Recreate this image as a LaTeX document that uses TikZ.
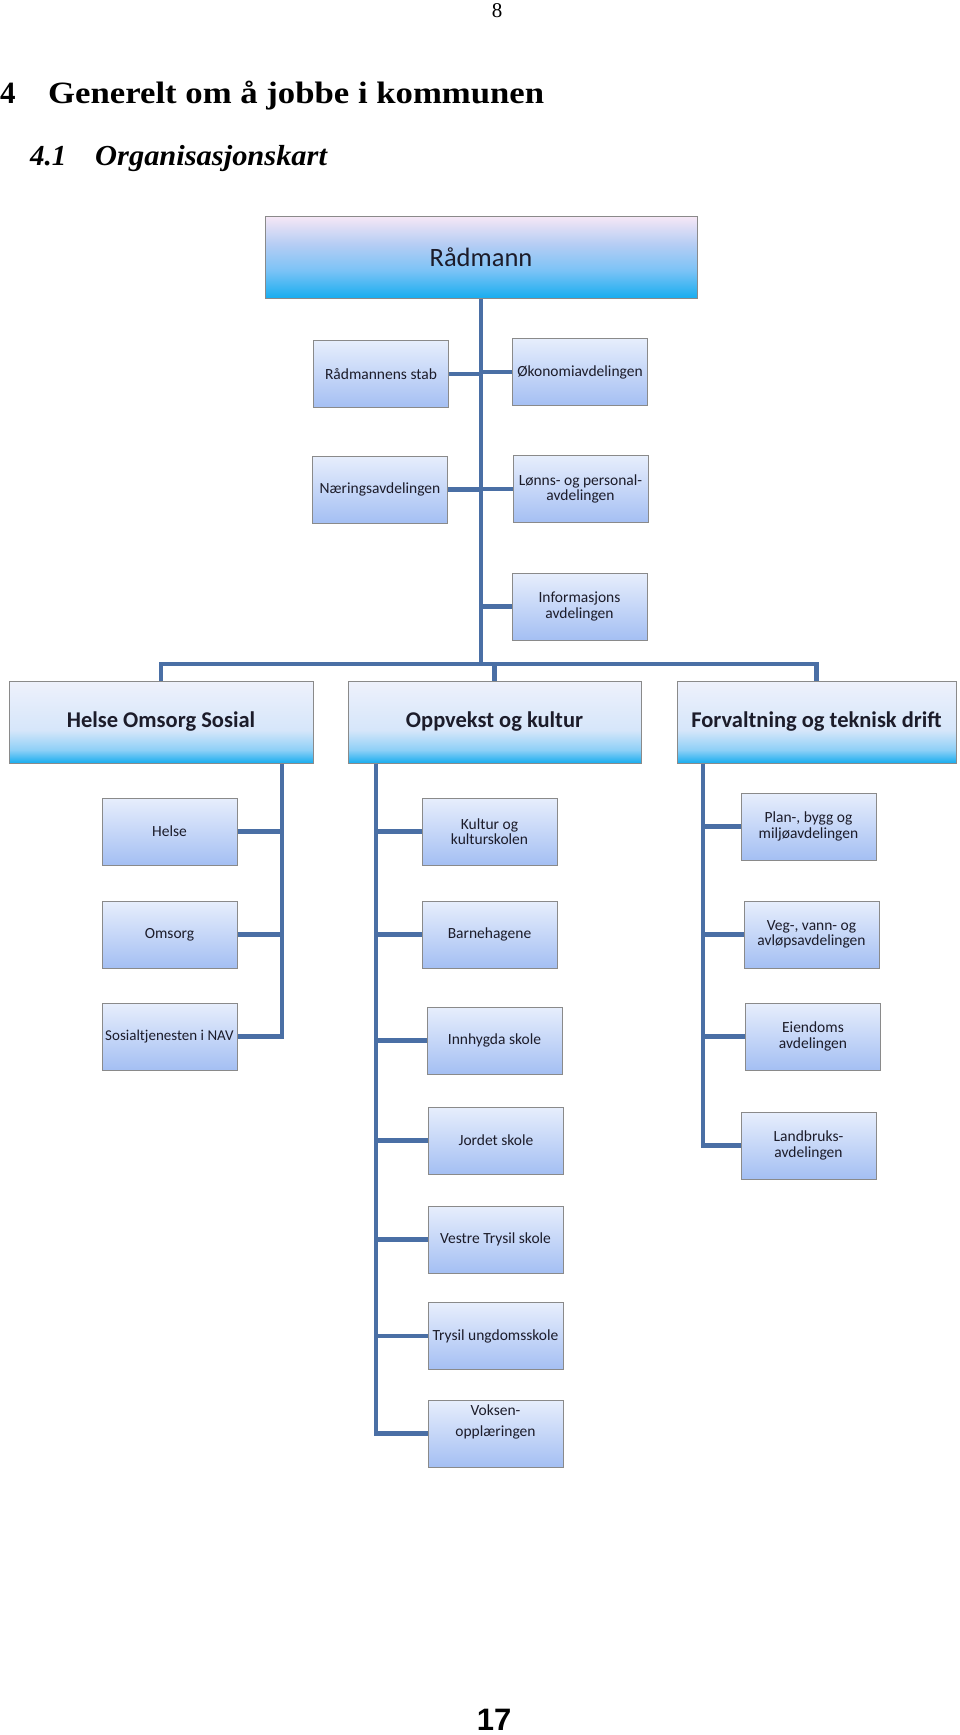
\documentclass[tikz,border=0pt]{standalone}
\usepackage{fontspec}
\setmainfont{Liberation Serif}
\newfontfamily\boxfont{Carlito}
\newfontfamily\pagefont{Liberation Sans}
\definecolor{connc}{HTML}{4A6FA5}
\definecolor{bordc}{HTML}{8A8A8A}
\definecolor{txtc}{HTML}{1C1C2A}
\definecolor{smtop}{HTML}{E7EEFC}
\definecolor{smbot}{HTML}{A4BFF3}
\definecolor{ra}{HTML}{18ADEF}
\definecolor{rb}{HTML}{7CC3F6}
\definecolor{rc}{HTML}{B6CDF4}
\definecolor{rd}{HTML}{F7E8F6}
\definecolor{da}{HTML}{18ADEF}
\definecolor{db}{HTML}{8ED0F7}
\definecolor{dc}{HTML}{D6E6FA}
\definecolor{dd}{HTML}{EEF1FB}
\pgfdeclareverticalshading{radshade}{100bp}{color(0bp)=(ra); color(25bp)=(ra); color(42bp)=(rb); color(58bp)=(rc); color(75bp)=(rd); color(100bp)=(rd)}
\pgfdeclareverticalshading{divshade}{100bp}{color(0bp)=(da); color(25bp)=(da); color(33bp)=(db); color(45bp)=(dc); color(75bp)=(dd); color(100bp)=(dd)}
\tikzset{
  conn/.style={draw=connc, line width=4.5pt},
  smallbox/.style={draw=bordc, line width=1pt, top color=smtop, bottom color=smbot,
    minimum width=135pt, minimum height=67pt, inner sep=0pt, align=center,
    text=txtc, font=\boxfont\fontsize{15.5}{15.5}\selectfont},
  radbox/.style={draw=bordc, line width=1pt, shading=radshade,
    minimum width=432pt, minimum height=82pt, inner sep=0pt, text=txtc,
    font=\boxfont\fontsize{26.5}{28}\selectfont},
  divbox/.style={draw=bordc, line width=1pt, shading=divshade,
    minimum height=82pt, inner sep=0pt, text=txtc,
    font=\boxfont\bfseries\fontsize{22.5}{25}\selectfont},
}
\begin{document}
\begin{tikzpicture}[x=1pt,y=-1pt]
\useasboundingbox (0,0) rectangle (960,1735);
% page header and titles
\node[anchor=base, font=\fontsize{21}{22}\selectfont] (pnum) at (497,17) {8};
\node[anchor=base west, inner sep=0pt, font=\bfseries\fontsize{31}{32}\selectfont] (hnum) at (0,103) {4};
\node[anchor=base west, inner sep=0pt, font=\bfseries\fontsize{31}{32}\selectfont] (htxt) at (48,103) {\scalebox{1.12}[1]{Generelt om å jobbe i kommunen}};
\node[anchor=base west, inner sep=0pt, font=\bfseries\itshape\fontsize{29}{30}\selectfont] (snum) at (30,165) {4.1};
\node[anchor=base west, inner sep=0pt, font=\bfseries\itshape\fontsize{29}{30}\selectfont] (stxt) at (95,165) {\scalebox{1.05}[1]{Organisasjonskart}};
\node[anchor=base, inner sep=0pt, font=\pagefont\bfseries\fontsize{31}{33}\selectfont] (foot) at (494,1730) {17};

% top
\node[radbox] (rad) at (481,257) {Rådmann};
\node[smallbox] (rs) at (381,374) {Rådmannens stab};
\node[smallbox] (oko) at (580,372) {Økonomiavdelingen};
\node[smallbox] (nar) at (380,489.5) {Næringsavdelingen};
\node[smallbox] (lon) at (580.5,489) {Lønns- og personal-\\avdelingen};
\node[smallbox] (inf) at (579.5,606.5) {Informasjons\\avdelingen};

% divisions
\node[divbox, minimum width=304pt] (hos) at (161,722) {Helse Omsorg Sosial};
\node[divbox, minimum width=293pt] (opp) at (494.5,722) {Oppvekst og kultur};
\node[divbox, minimum width=279pt] (forv) at (816.5,722) {Forvaltning og teknisk drift};

% Helse Omsorg Sosial
\node[smallbox] (helse) at (169.5,831.5) {Helse};
\node[smallbox] (oms) at (169.5,934.5) {Omsorg};
\node[smallbox, font=\boxfont\fontsize{15}{15.5}\selectfont] (sos) at (169.5,1036.5) {Sosialtjenesten i NAV};

% Oppvekst og kultur
\node[smallbox] (kul) at (489.5,831.5) {Kultur og\\kulturskolen};
\node[smallbox] (barn) at (489.5,934.5) {Barnehagene};
\node[smallbox] (innh) at (494.5,1040.5) {Innhygda skole};
\node[smallbox] (jord) at (496,1140.5) {Jordet skole};
\node[smallbox] (vest) at (495.5,1239.5) {Vestre Trysil skole};
\node[smallbox] (trys) at (495.5,1336) {Trysil ungdomsskole};
\node[smallbox, font=\boxfont\fontsize{15.5}{21}\selectfont, text depth=26pt] (voks) at (495.5,1433.5) {Voksen-\\opplæringen};

% Forvaltning og teknisk drift
\node[smallbox] (plan) at (808.5,826.5) {Plan-, bygg og\\miljøavdelingen};
\node[smallbox] (veg) at (811.5,934.5) {Veg-, vann- og\\avløpsavdelingen};
\node[smallbox] (eien) at (813,1036.5) {Eiendoms\\avdelingen};
\node[smallbox] (land) at (808.5,1145.5) {Landbruks-\\avdelingen};

% connectors
\coordinate (bar) at (481,664);
\coordinate (hosl) at (282,0);
\coordinate (oppl) at (376,0);
\coordinate (forl) at (703,0);
\draw[conn] (rad.south) -- (bar);
\draw[conn] (rs.east) -- (rs.east -| rad.south);
\draw[conn] (oko.west) -- (oko.west -| rad.south);
\draw[conn] (nar.east) -- (nar.east -| rad.south);
\draw[conn] (lon.west) -- (lon.west -| rad.south);
\draw[conn] (inf.west) -- (inf.west -| rad.south);
\draw[conn] (hos.north) |- (bar) -| (forv.north);
\draw[conn] (opp.north) -- (opp.north |- bar);

\draw[conn] (hos.south -| hosl) |- (sos.east);
\draw[conn] (helse.east) -- (helse.east -| hosl);
\draw[conn] (oms.east) -- (oms.east -| hosl);

\draw[conn] (opp.south -| oppl) |- (voks.west);
\draw[conn] (kul.west) -- (kul.west -| oppl);
\draw[conn] (barn.west) -- (barn.west -| oppl);
\draw[conn] (innh.west) -- (innh.west -| oppl);
\draw[conn] (jord.west) -- (jord.west -| oppl);
\draw[conn] (vest.west) -- (vest.west -| oppl);
\draw[conn] (trys.west) -- (trys.west -| oppl);

\draw[conn] (forv.south -| forl) |- (land.west);
\draw[conn] (plan.west) -- (plan.west -| forl);
\draw[conn] (veg.west) -- (veg.west -| forl);
\draw[conn] (eien.west) -- (eien.west -| forl);
\end{tikzpicture}
\end{document}
